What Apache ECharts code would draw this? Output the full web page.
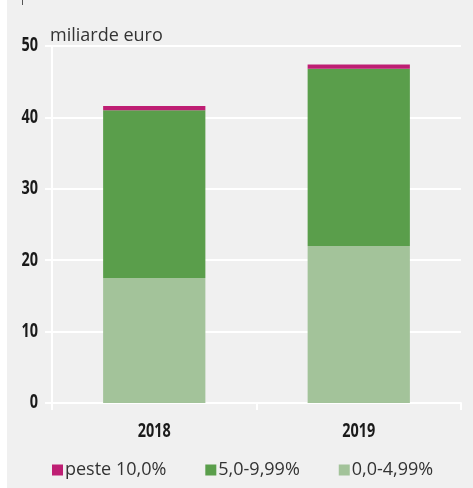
<!DOCTYPE html>
<html>
<head>
<meta charset="utf-8">
<script src="https://cdn.jsdelivr.net/npm/echarts@6/dist/echarts.min.js"></script>
<style>
  html, body { margin: 0; padding: 0; background: #ffffff; }
  #chart { width: 473px; height: 488px; }
</style>
</head>
<body>
<div id="chart"></div>
<script>
// Years on the category axis
const years = ['2018', '2019'];
// Values in billion euro, stacked from the bottom up
const band0to499 = [17.5, 22.0];
const band5to999 = [23.5, 24.8];
const bandOver10 = [0.6, 0.6];
// Value axis ticks
const yTicks = [0, 10, 20, 30, 40, 50];
const seriesNames = ['peste 10,0%', '5,0-9,99%', '0,0-4,99%'];

const textFont = '"Open Sans", "Noto Sans", sans-serif';
// Axis numbers use a narrowed bold face
const labelFont = 'bold 19px "Open Sans", sans-serif';
const labelNarrow = 0.76;

const chart = echarts.init(document.getElementById('chart'), null, { renderer: 'canvas' });

chart.setOption({
  animation: false,
  backgroundColor: '#ffffff',
  graphic: [
    { type: 'rect', id: 'bg', z: -100, shape: { x: 7, y: 0, width: 466, height: 488 }, style: { fill: '#f0f0f0' } },
    { type: 'line', id: 'mark', z: -90, shape: { x1: 22.5, y1: 0, x2: 22.5, y2: 5 }, style: { stroke: '#555', lineWidth: 1 } }
  ],
  title: {
    text: 'miliarde euro',
    left: 45,
    top: 22,
    textStyle: { fontFamily: textFont, fontSize: 18, fontWeight: 'normal', color: '#333333' }
  },
  legend: {
    data: seriesNames,
    left: 52,
    top: 461,
    padding: 0,
    itemWidth: 11,
    itemHeight: 11,
    itemGap: 39,
    icon: 'rect',
    textStyle: { fontFamily: textFont, fontSize: 18, color: '#333333', padding: [0, 0, 0, -3] }
  },
  grid: { left: 52, right: 12, top: 46, bottom: 85, containLabel: false },
  xAxis: {
    type: 'category',
    data: years,
    axisLine: { lineStyle: { color: '#ffffff', width: 2 } },
    axisTick: { show: true, length: 7, lineStyle: { color: '#ffffff', width: 2 } },
    axisLabel: { show: false }
  },
  yAxis: {
    type: 'value',
    min: yTicks[0],
    max: yTicks[yTicks.length - 1],
    interval: 10,
    axisLine: { show: true, lineStyle: { color: '#ffffff', width: 2 } },
    axisTick: { show: true, length: 7, lineStyle: { color: '#ffffff', width: 2 } },
    splitLine: { lineStyle: { color: '#ffffff', width: 2 } },
    axisLabel: { show: false }
  },
  series: [
    {
      name: '0,0-4,99%', type: 'bar', stack: 'total', barWidth: '50%',
      itemStyle: { color: '#a3c39a' },
      data: band0to499
    },
    {
      name: '5,0-9,99%', type: 'bar', stack: 'total', barWidth: '50%',
      itemStyle: { color: '#5a9e4b' },
      data: band5to999
    },
    {
      name: 'peste 10,0%', type: 'bar', stack: 'total', barWidth: '50%',
      itemStyle: { color: '#be1e73' },
      data: bandOver10
    }
  ]
});

// Axis labels placed through the axes' own scales, drawn horizontally narrowed
const labelEls = [];
const zeroY = chart.convertToPixel({ yAxisIndex: 0 }, yTicks[0]);
yTicks.forEach(function (v, i) {
  labelEls.push({
    type: 'text', id: 'ylab' + i, z: 10,
    x: 38, y: chart.convertToPixel({ yAxisIndex: 0 }, v),
    scaleX: labelNarrow,
    style: { text: String(v), font: labelFont, fill: '#1a1a1a', align: 'right', verticalAlign: 'middle' }
  });
});
years.forEach(function (c, i) {
  labelEls.push({
    type: 'text', id: 'xlab' + i, z: 10,
    x: chart.convertToPixel({ xAxisIndex: 0 }, c), y: zeroY + 29,
    scaleX: labelNarrow,
    style: { text: c, font: labelFont, fill: '#1a1a1a', align: 'center', verticalAlign: 'middle' }
  });
});
chart.setOption({ graphic: labelEls });
</script>
</body>
</html>
